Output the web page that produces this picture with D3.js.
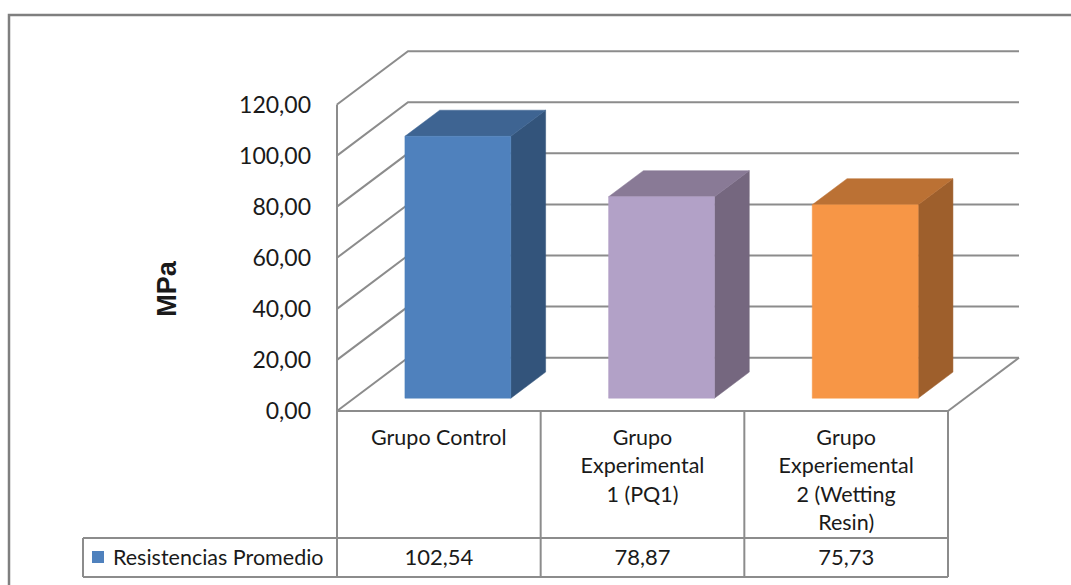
<!DOCTYPE html>
<html>
<head>
<meta charset="utf-8">
<script src="https://cdn.jsdelivr.net/npm/d3@7"></script>
<style>
  body { margin: 0; background: #fff; }
  svg { display: block; }
  text { font-family: Lato, "Open Sans", sans-serif; fill: #1a1a1a; }
</style>
</head>
<body>
<svg id="chart" width="1071" height="585"></svg>
<script>
// data
var categories = ["Grupo Control", "Grupo\nExperimental\n1 (PQ1)", "Grupo\nExperiemental\n2 (Wetting\nResin)"];
var values = [102.54, 78.87, 75.73];
var valueLabels = ["102,54", "78,87", "75,73"];
var yTicks = [0, 20, 40, 60, 80, 100, 120];
var seriesName = "Resistencias Promedio";
var axisTitle = "MPa";

var frontColors = ["#4F81BD", "#B2A1C7", "#F79646"];
var sideColors = ["#33547B", "#75677F", "#9E5F2C"];
var topColors = ["#3E6492", "#897A96", "#BB7134"];

var svg = d3.select("#chart");

// plot box (front plane) and depth of the 3d box
var plotLeft = 337, plotRight = 948, plotBottom = 411, plotTop = 104.5;
var depthX = 71, depthY = 53.3;

var x = d3.scaleBand().domain(categories).range([plotLeft, plotRight]);
var y = d3.scaleLinear().domain([0, 120]).range([plotBottom, plotTop]);

function proj(px, py, z) {
  return [px + z * depthX, py - z * depthY];
}

var gridColor = "#8c8c8c";

// outer frame
svg.append("rect")
  .attr("x", 9).attr("y", 15)
  .attr("width", 1100).attr("height", 600)
  .attr("fill", "none")
  .attr("stroke", "#7f7f7f")
  .attr("stroke-width", 2.5);

var grid = svg.append("g")
  .attr("stroke", gridColor)
  .attr("stroke-width", 2)
  .attr("fill", "none");

// gridlines on side wall and back wall
yTicks.forEach(function (t) {
  var f = proj(plotLeft, y(t), 0);
  var b = proj(plotLeft, y(t), 1);
  var br = proj(plotRight, y(t), 1);
  grid.append("polyline")
    .attr("points", [f, b, br].map(function (p) { return p.join(","); }).join(" "));
});

// front vertical axis line of the side wall
grid.append("line")
  .attr("x1", plotLeft).attr("x2", plotLeft)
  .attr("y1", y(120)).attr("y2", plotBottom);

// floor right edge
var fr = proj(plotRight, plotBottom, 0), brr = proj(plotRight, plotBottom, 1);
grid.append("line")
  .attr("x1", fr[0]).attr("y1", fr[1])
  .attr("x2", brr[0]).attr("y2", brr[1]);

// tick labels
svg.append("g").selectAll("text")
  .data(yTicks)
  .join("text")
  .attr("x", 311)
  .attr("y", function (d) { return y(d); })
  .attr("dy", "0.36em")
  .attr("text-anchor", "end")
  .attr("font-size", 23)
  .text(function (d) { return d3.format(".2f")(d).replace(".", ","); });

// axis title
svg.append("text")
  .attr("transform", "translate(176,289) rotate(-90)")
  .attr("text-anchor", "middle")
  .style("font-family", "'Liberation Sans', Arial, sans-serif")
  .style("font-weight", "bold")
  .attr("font-size", 27)
  .text(axisTitle);

// bars as 3d boxes
var z0 = 0.24, z1 = 0.73;
var barW = x.bandwidth() * 0.52;
var bars = svg.append("g");

categories.forEach(function (c, i) {
  var x0 = x(c) + (x.bandwidth() - barW) / 2 + 2;
  var x1 = x0 + barW;
  var yb = y(0), yt = y(values[i]);

  var ftl = proj(x0, yt, z0), ftr = proj(x1, yt, z0), fbr = proj(x1, yb, z0), fbl = proj(x0, yb, z0);
  var btl = proj(x0, yt, z1), btr = proj(x1, yt, z1), bbr = proj(x1, yb, z1);

  function poly(pts, color) {
    bars.append("polygon")
      .attr("points", pts.map(function (p) { return p.join(","); }).join(" "))
      .attr("fill", color)
      .attr("stroke", color)
      .attr("stroke-width", 0.5);
  }
  poly([ftr, btr, bbr, fbr], sideColors[i]);
  poly([ftl, btl, btr, ftr], topColors[i]);
  poly([ftl, ftr, fbr, fbl], frontColors[i]);
});

// data table
var tableTop = plotBottom, rowSep = 538, tableBottom = 577, legendLeft = 83;
var table = svg.append("g")
  .attr("stroke", gridColor)
  .attr("stroke-width", 2)
  .attr("fill", "none");

table.append("line").attr("x1", plotLeft).attr("x2", plotRight).attr("y1", tableTop).attr("y2", tableTop);
table.append("line").attr("x1", legendLeft).attr("x2", plotRight).attr("y1", rowSep).attr("y2", rowSep);
table.append("line").attr("x1", legendLeft).attr("x2", plotRight).attr("y1", tableBottom).attr("y2", tableBottom);
table.append("line").attr("x1", legendLeft).attr("x2", legendLeft).attr("y1", rowSep).attr("y2", tableBottom);
[plotLeft].concat(categories.map(function (c) { return x(c) + x.bandwidth(); })).forEach(function (px) {
  table.append("line").attr("x1", px).attr("x2", px).attr("y1", tableTop).attr("y2", tableBottom);
});

// category labels
categories.forEach(function (c) {
  var t = svg.append("text")
    .attr("text-anchor", "middle")
    .attr("font-size", 21.5);
  c.split("\n").forEach(function (line, k) {
    t.append("tspan")
      .attr("x", x(c) + x.bandwidth() / 2)
      .attr("y", 445 + k * 28.3)
      .text(line);
  });
});

// value row
svg.append("g").selectAll("text")
  .data(categories)
  .join("text")
  .attr("x", function (c) { return x(c) + x.bandwidth() / 2; })
  .attr("y", 565)
  .attr("text-anchor", "middle")
  .attr("font-size", 22)
  .text(function (c, i) { return valueLabels[i]; });

// legend key
svg.append("rect")
  .attr("x", 92).attr("y", 551)
  .attr("width", 12).attr("height", 12)
  .attr("fill", frontColors[0]);
svg.append("text")
  .attr("x", 113).attr("y", 565)
  .attr("font-size", 21.5)
  .text(seriesName);
</script>
</body>
</html>
